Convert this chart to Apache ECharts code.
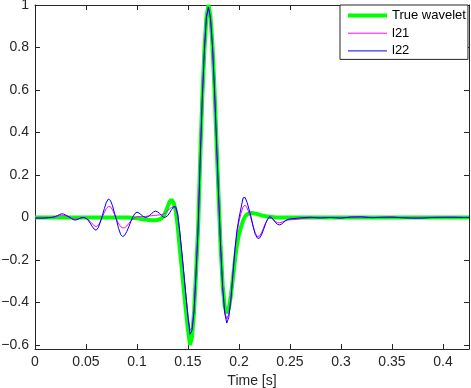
<!DOCTYPE html>
<html><head><meta charset="utf-8">
<script src="https://cdn.jsdelivr.net/npm/echarts@6/dist/echarts.min.js"></script>
<style>html,body{margin:0;padding:0;background:#fff}#c{width:471px;height:388px}</style>
</head><body><div id="c"></div><script>
const time = [0, 0.008,
  0.016,0.018,0.020,0.022,0.024,0.026,0.028,0.030,0.032,0.034,0.036,0.038,
  0.040,0.042,0.044,0.046,0.048,0.050,0.052,0.054,0.056,0.058,
  0.060,0.062,0.064,0.066,0.068,0.070,0.072,0.074,0.076,0.078,
  0.080,0.082,0.084,0.086,0.088,0.090,0.092,0.094,0.096,0.098,
  0.100,0.102,0.104,0.106,0.108,0.110,0.112,0.114,0.116,0.118,
  0.120,0.122,0.124,0.126,0.128,0.130,0.132,0.134,0.136,0.138,
  0.140,0.142,0.144,0.146,0.148,0.150,0.152,0.154,0.156,0.158,
  0.160,0.162,0.164,0.166,0.168,0.170,0.172,0.174,0.176,0.178,
  0.180,0.182,0.184,0.186,0.188,0.190,0.192,0.194,0.196,0.198,
  0.200,0.202,0.204,0.206,0.208,0.210,0.212,0.214,0.216,0.218,
  0.220,0.222,0.224,0.226,0.228,0.230,0.232,0.234,0.236,0.238,
  0.240,0.242,0.244,0.246,0.248,0.250,0.252,0.254,0.256,0.258,
  0.260,
  0.27,0.28,0.29,0.30,0.31,0.32,0.33,0.34,0.35,0.36,0.37,0.38,0.39,0.40,0.41,0.42,0.4255];

const trueWavelet = [0, 0,
  0,0,0,0,0,0,0,0,0,0,0,0,
  0,0,0,0,0,0,0,0,0,0,
  0,0,0,0,0,0,0,0,0,0,
  0,0,0,0,0,0,0,-0.001,-0.002,-0.003,
  -0.004,-0.005,-0.007,-0.008,-0.01,-0.011,-0.012,-0.013,-0.013,-0.013,
  -0.012,-0.009,-0.004,0.005,0.025,0.05,0.075,0.083,0.068,0.03,
  -0.045,-0.15,-0.245,-0.345,-0.44,-0.53,-0.6,-0.56,-0.44,-0.25,
  -0.04,0.28,0.56,0.78,0.94,1.0,0.95,0.81,0.6,0.35,
  0.1,-0.14,-0.32,-0.42,-0.45,-0.43,-0.37,-0.29,-0.2,-0.13,
  -0.08,-0.045,-0.015,0.005,0.015,0.02,0.021,0.02,0.018,0.016,
  0.013,0.01,0.008,0.006,0.004,0.003,0.002,0.001,0,0,
  0,0,0,0,0,0,0,0,0,0,
  0,
  0,0,0,0,0,0,0,0,0,0,0,0,0,0,0,0,0];

const l21 = [-0.002, -0.002,
  0.0,0.001,0.003,0.006,0.009,0.011,0.01,0.008,0.004,0.0,-0.004,-0.007,
  -0.008,-0.006,-0.003,-0.001,0.0,-0.003,-0.009,-0.018,-0.029,-0.038,
  -0.043,-0.037,-0.02,0.002,0.024,0.043,0.052,0.05,0.036,0.014,
  -0.01,-0.03,-0.043,-0.049,-0.048,-0.04,-0.028,-0.016,-0.006,0.0,
  0.003,0.004,0.004,0.004,0.005,0.006,0.007,0.008,0.009,0.01,
  0.011,0.012,0.013,0.016,0.022,0.031,0.041,0.048,0.05,0.04,
  0.005,-0.075,-0.17,-0.27,-0.37,-0.46,-0.53,-0.52,-0.43,-0.245,
  -0.035,0.28,0.56,0.78,0.94,0.99,0.94,0.81,0.6,0.35,
  0.1,-0.14,-0.33,-0.44,-0.478,-0.455,-0.38,-0.27,-0.16,-0.075,
  -0.02,0.02,0.05,0.058,0.045,0.02,-0.01,-0.045,-0.075,-0.09,
  -0.088,-0.073,-0.05,-0.027,-0.01,-0.002,-0.004,-0.012,-0.02,-0.025,
  -0.025,-0.022,-0.018,-0.014,-0.012,-0.011,-0.01,-0.01,-0.009,-0.008,
  -0.006,
  -0.002,-0.002,0.0,-0.002,0.002,0.002,0.0,0.0,0.001,-0.001,-0.002,-0.001,0.001,0.0,0.001,0.0,0.0];

const l22 = [-0.003, -0.003,
  0.0,0.002,0.005,0.009,0.014,0.017,0.016,0.012,0.007,0.001,-0.006,-0.011,
  -0.012,-0.009,-0.004,-0.001,0.0,-0.004,-0.012,-0.026,-0.042,-0.055,
  -0.06,-0.048,-0.022,0.008,0.042,0.072,0.087,0.08,0.055,0.02,
  -0.015,-0.052,-0.08,-0.09,-0.083,-0.066,-0.043,-0.018,0.003,0.019,
  0.025,0.021,0.013,0.005,0.0,0.002,0.008,0.017,0.025,0.03,
  0.027,0.02,0.01,0.002,0.001,0.008,0.022,0.038,0.051,0.05,
  0.015,-0.07,-0.165,-0.265,-0.37,-0.47,-0.55,-0.53,-0.44,-0.25,
  -0.04,0.28,0.56,0.78,0.94,0.99,0.94,0.81,0.6,0.35,
  0.1,-0.14,-0.33,-0.45,-0.497,-0.47,-0.39,-0.27,-0.15,-0.06,
  -0.003,0.045,0.092,0.094,0.07,0.035,0.0,-0.045,-0.08,-0.097,
  -0.098,-0.083,-0.058,-0.03,-0.008,0.004,0.0,-0.012,-0.025,-0.033,
  -0.035,-0.03,-0.022,-0.014,-0.009,-0.007,-0.006,-0.005,-0.004,-0.003,
  -0.002,
  0.001,-0.002,0.0,-0.003,0.002,0.003,-0.001,0.001,0.002,-0.001,-0.003,-0.003,0.0,0.001,0.001,0.0,0.0];

const seriesNames = ['True wavelet', 'l21', 'l22'];
const xTicks = [0, 0.05, 0.1, 0.15, 0.2, 0.25, 0.3, 0.35, 0.4];
const yTicks = [-0.6, -0.4, -0.2, 0, 0.2, 0.4, 0.6, 0.8, 1];

[trueWavelet, l21, l22].forEach(a => { if (a.length !== time.length) throw new Error('length mismatch ' + a.length + ' vs ' + time.length); });
const zip = vals => time.map((t, i) => [t, vals[i]]);

const axisColor = '#262626';
const font = 'Liberation Sans';
const xMin = 0, xMax = 0.4255, yMin = -0.619, yMax = 1;
const colors = ['#00ff00', '#ff00ff', '#0000ff'];
const widths = [4, 1, 1];

const baseX = {
  type: 'value', min: xMin, max: xMax,
  axisLine: { show: true, onZero: false, lineStyle: { color: axisColor, width: 1 } },
  axisTick: { show: true, inside: true, length: 5, customValues: xTicks, lineStyle: { color: axisColor } },
  splitLine: { show: false }
};
const baseY = {
  type: 'value', min: yMin, max: yMax,
  axisLine: { show: true, onZero: false, lineStyle: { color: axisColor, width: 1 } },
  axisTick: { show: true, inside: true, length: 5, customValues: yTicks, lineStyle: { color: axisColor } },
  splitLine: { show: false }
};

const chart = echarts.init(document.getElementById('c'), null, { renderer: 'canvas' });
chart.setOption({
  animation: false,
  backgroundColor: '#fff',
  grid: { left: 35, right: 2, top: 5, bottom: 39, containLabel: false, outerBoundsMode: 'none' },
  xAxis: [
    Object.assign({}, baseX, {
      position: 'bottom',
      axisLabel: { customValues: xTicks, color: axisColor, fontFamily: font, fontSize: 14, margin: 6,
        formatter: v => String(v) },
      name: 'Time [s]', nameLocation: 'middle', nameGap: 24,
      nameTextStyle: { color: axisColor, fontFamily: font, fontSize: 14 }
    }),
    Object.assign({}, baseX, { position: 'top', axisLabel: { show: false } })
  ],
  yAxis: [
    Object.assign({}, baseY, {
      position: 'left',
      axisLabel: { customValues: yTicks, color: axisColor, fontFamily: font, fontSize: 14, margin: 6,
        formatter: v => String(v).replace('-', '\u2212') }
    }),
    Object.assign({}, baseY, { position: 'right', axisLabel: { show: false } })
  ],
  legend: {
    data: seriesNames.map((n, i) => ({ name: n, lineStyle: { width: widths[i], color: colors[i] } })),
    left: 340, top: 5, orient: 'vertical',
    itemWidth: 39, itemHeight: 12, itemGap: 4.7,
    padding: [4, 2, 2, 6],
    backgroundColor: '#fff', borderColor: axisColor, borderWidth: 1, borderRadius: 0,
    itemStyle: { opacity: 0, borderWidth: 0 },
    textStyle: { fontFamily: font, fontSize: 13, color: '#000' }
  },
  series: seriesNames.map((n, i) => ({
    name: n, type: 'line', data: zip([trueWavelet, l21, l22][i]),
    symbol: 'none', showSymbol: false, clip: false,
    lineStyle: { color: colors[i], width: widths[i] }, itemStyle: { color: colors[i] }, z: 2 + i
  }))
});
</script></body></html>
